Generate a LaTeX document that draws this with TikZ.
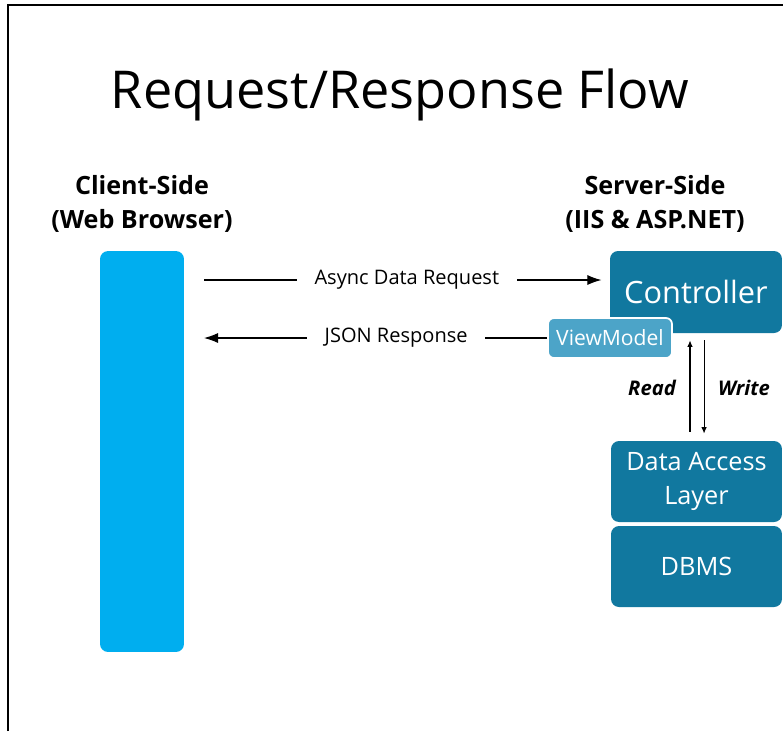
\documentclass[tikz,border=0pt]{standalone}
\usepackage{fontspec}
\setmainfont{Open Sans}
\usetikzlibrary{arrows.meta}

\definecolor{clientblue}{HTML}{00AEEF}
\definecolor{serverblue}{HTML}{11789F}
\definecolor{vmblue}{HTML}{4CA4C8}

\tikzset{
  tier/.style = {fill = serverblue, rounded corners = 0.16cm, inner sep = 0pt,
                 text = white, align = center, font = \fontsize{14.4}{19.5}\selectfont},
  heading/.style = {align = center, font = \fontsize{14.3}{19}\selectfont\bfseries},
  flow/.style = {line width = 0.6pt, -{Latex[length = 0.28cm, width = 0.2cm]}},
  rw/.style = {line width = 0.6pt, -{Latex[length = 0.13cm, width = 0.11cm]}},
  flowlabel/.style = {fill = white, inner xsep = 10pt, font = \fontsize{11.4}{13}\selectfont},
}

\begin{document}
\begin{tikzpicture}[x = 0.02cm, y = -0.02cm]

\useasboundingbox (0,0) rectangle (783,731);

% frame
\draw[line width = 1.7pt] (8,731) -- (8,5) -- (783,5);

\node[anchor = base, font = \fontsize{29.7}{34}\selectfont] (title) at (400,108) {Request/Response Flow};

\node[heading] (clienthead) at (142,204) {Client-Side\\(Web Browser)};
\node[heading] (serverhead) at (655,204) {Server-Side\\(IIS \& ASP.NET)};

% client bar
\node[fill = clientblue, rounded corners = 0.16cm, minimum width = 1.68cm,
      minimum height = 8.02cm, inner sep = 0pt] (client) at (142,451.5) {};

% server stack
\node[tier, minimum width = 3.44cm, minimum height = 1.64cm,
      font = \fontsize{17.5}{21}\selectfont] (ctrl) at (696,292) {Controller};
\node[fill = vmblue, draw = white, line width = 1pt, rounded corners = 0.12cm,
      minimum width = 2.48cm, minimum height = 0.8cm, inner sep = 0pt, text = white,
      font = \fontsize{12}{15}\selectfont] (vm) at (610,338) {ViewModel};
\node[tier, minimum width = 3.42cm, minimum height = 1.62cm] (dal) at (696.5,481.5) {Data Access\\Layer};
\node[tier, minimum width = 3.42cm, minimum height = 1.62cm] (dbms) at (696.5,566.5) {DBMS};

% request / response
\coordinate (reqstart) at (204,280);
\draw[flow, shorten > = 4.7pt] (reqstart) -- (reqstart -| ctrl.west)
  node[flowlabel, midway] (reqlabel) {Async Data Request};
\draw[flow] (vm.west) -- (vm.west -| reqstart)
  node[flowlabel, pos = 0.44] (resplabel) {JSON Response};

% read / write
\draw[rw, shorten < = 5pt, shorten > = 4pt] ([xshift = -3.7pt]dal.north) -- ([xshift = -3.7pt]dal.north |- ctrl.south);
\draw[rw, shorten < = 4pt, shorten > = 4pt] ([xshift = 4.3pt]dal.north |- ctrl.south) -- ([xshift = 4.3pt]dal.north);
\node[font = \fontsize{11.5}{14}\selectfont\bfseries\itshape] (readlabel) at (652,388) {Read};
\node[font = \fontsize{11.5}{14}\selectfont\bfseries\itshape] (writelabel) at (744,388) {Write};

\end{tikzpicture}
\end{document}
